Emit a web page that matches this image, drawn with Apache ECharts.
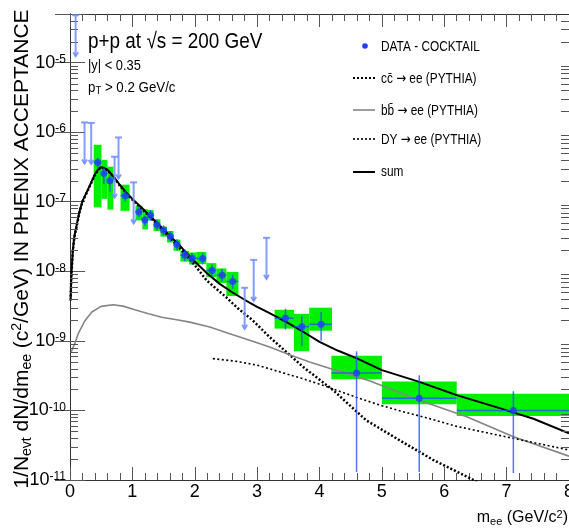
<!DOCTYPE html>
<html><head><meta charset="utf-8">
<script src="https://cdn.jsdelivr.net/npm/echarts@6/dist/echarts.min.js"></script>
<style>html,body{margin:0;padding:0;background:#fff}#c{width:569px;height:529px}</style>
</head><body><div id="c"></div>
<script>
// ---------- DATA ----------
const xTickLabels = ['0','1','2','3','4','5','6','7','8'];
const yTickExponents = [-11,-10,-9,-8,-7,-6,-5];

// DATA - COCKTAIL points
const ptM   = [0.446,0.543,0.64,0.886,1.105,1.2,1.292,1.394,1.5,1.608,1.715,1.843,1.955,2.127,2.276,2.437,2.608,3.454,3.716,4.026,4.594,5.599,7.108];
const ptV   = [3.67e-7,2.55e-7,2.01e-7,1.22e-7,7.15e-8,5.48e-8,6.38e-8,4.65e-8,3.89e-8,3.19e-8,2.42e-8,1.70e-8,1.54e-8,1.53e-8,1.03e-8,8.8e-9,7.15e-9,2.12e-9,1.6e-9,1.73e-9,3.45e-10,1.5e-10,1.0e-10];
const binLo = [0.38,0.505,0.6,0.81,1.05,1.16,1.25,1.34,1.45,1.555,1.66,1.77,1.91,2.025,2.186,2.347,2.507,3.28,3.59,3.835,4.19,5.0,6.2];
const binHi = [0.505,0.6,0.695,0.955,1.16,1.25,1.34,1.45,1.555,1.66,1.77,1.91,2.025,2.186,2.347,2.507,2.7,3.59,3.835,4.2,5.0,6.2,8.0];
const sysLo = [8.3e-8,1.1e-7,7.7e-8,7.4e-8,5.4e-8,4.0e-8,5.4e-8,3.8e-8,3.15e-8,2.6e-8,1.97e-8,1.38e-8,1.25e-8,1.27e-8,8.2e-9,6.8e-9,4.4e-9,1.5e-9,7.1e-10,1.4e-9,2.8e-10,1.23e-10,8.3e-11];
const sysHi = [6.6e-7,4.0e-7,3.2e-7,1.76e-7,8.8e-8,7.8e-8,7.6e-8,5.6e-8,4.4e-8,3.8e-8,2.85e-8,1.97e-8,1.86e-8,1.9e-8,1.31e-8,1.1e-8,9.8e-9,2.8e-9,2.45e-9,3.0e-9,6.1e-10,2.6e-10,1.74e-10];
const statLo = [2.96e-7,1.8e-7,1.4e-7,1.01e-7,5.97e-8,4.5e-8,5.3e-8,3.9e-8,3.25e-8,2.65e-8,2.0e-8,1.4e-8,1.28e-8,1.25e-8,8.4e-9,7.1e-9,5.6e-9,1.45e-9,8.5e-10,1.0e-9,1.3e-11,1.3e-11,1.26e-11];
const statHi = [4.33e-7,3.1e-7,2.4e-7,1.45e-7,8.5e-8,6.3e-8,7.6e-8,5.5e-8,4.6e-8,3.8e-8,2.9e-8,2.05e-8,1.85e-8,1.85e-8,1.25e-8,1.08e-8,8.9e-9,2.9e-9,2.3e-9,2.6e-9,7.06e-10,3.2e-10,1.89e-10];

// upper limits
const ulM = [0.09,0.233,0.34,0.714,0.778,1.02,2.8,2.945,3.15];
const ulV = [4.8e-5,1.38e-6,1.36e-6,4.44e-7,8.4e-7,1.9e-7,5.8e-9,1.46e-8,3.03e-8];

// sum
const sumM = [0.01,0.02,0.045,0.07,0.1,0.15,0.2,0.3,0.4,0.45,0.49,0.55,0.6,0.7,0.8,0.9,1.0,1.2,1.4,1.6,1.8,2.0,2.2,2.4,2.6,2.8,3.0,3.2,3.5,3.75,4.0,4.3,4.6,5.0,5.6,6.2,6.9,7.43,8.0];
const sumV = [4.0e-9,8.3e-9,2.0e-8,3.2e-8,4.3e-8,7.1e-8,1.02e-7,1.58e-7,2.5e-7,2.9e-7,3.13e-7,3.05e-7,2.88e-7,2.29e-7,1.74e-7,1.36e-7,1.10e-7,7.4e-8,4.9e-8,3.24e-8,2.14e-8,1.38e-8,9.3e-9,6.6e-9,5.0e-9,3.9e-9,3.09e-9,2.51e-9,1.80e-9,1.33e-9,9.7e-10,7.2e-10,5.6e-10,3.8e-10,2.57e-10,1.66e-10,1.07e-10,7.6e-11,4.7e-11];
// c cbar -> ee
const ccM = [0.01,0.02,0.045,0.07,0.1,0.15,0.2,0.3,0.4,0.45,0.49,0.55,0.6,0.7,0.8,0.9,1.0,1.2,1.4,1.6,1.8,2.0,2.19,2.5,2.68,2.93,3.2,3.47,3.74,4.22,4.75,5.29,5.82,6.47,6.6];
const ccV = [3.8e-9,7.9e-9,1.95e-8,3.1e-8,4.17e-8,6.9e-8,1.0e-7,1.55e-7,2.45e-7,2.85e-7,3.09e-7,3.02e-7,2.85e-7,2.26e-7,1.70e-7,1.33e-7,1.07e-7,7.2e-8,4.7e-8,3.05e-8,1.97e-8,1.23e-8,7.4e-9,4.27e-9,3.0e-9,1.97e-9,1.135e-9,6.9e-10,4.2e-10,1.95e-10,7.2e-11,3.7e-11,1.95e-11,1.0e-11,8.7e-12];
// b bbar -> ee
const bbM = [0.02,0.05,0.08,0.13,0.24,0.35,0.5,0.69,0.85,1.04,1.26,1.47,1.71,1.92,2.24,2.56,2.88,3.2,3.52,3.84,4.17,4.49,4.81,5.6,6.36,7.11,8.0];
const bbV = [6.9e-10,8.1e-10,9.3e-10,1.26e-9,1.95e-9,2.6e-9,3.13e-9,3.31e-9,3.16e-9,2.8e-9,2.45e-9,2.19e-9,2.01e-9,1.86e-9,1.58e-9,1.27e-9,1.02e-9,8.15e-10,6.3e-10,4.97e-10,4.0e-10,3.3e-10,2.65e-10,1.4e-10,8.1e-11,4.2e-11,2.2e-11];
// Drell-Yan -> ee
const dyM = [2.29,2.67,3.0,3.36,3.74,4.06,4.43,4.6,5.0,5.3,5.7,6.2,7.1,8.0];
const dyV = [5.56e-10,5.08e-10,4.47e-10,3.59e-10,2.85e-10,2.29e-10,1.74e-10,1.53e-10,1.17e-10,9.8e-11,7.9e-11,5.9e-11,3.98e-11,2.7e-11];

// legend labels
const legendLabels = ['DATA - COCKTAIL', 'c\u0063\u0304', 'b\u0062\u0304', 'DY', 'sum'];

// ---------- CHART ----------
const FONT = "'Liberation Sans', Arial, Helvetica, sans-serif";
const chart = echarts.init(document.getElementById('c'), null, {renderer:'canvas'});
const zip = (a,b) => a.map((x,i)=>[x,b[i]]);

const minorY = [];
for (let e = -11; e <= -5; e++) for (let k = 2; k <= 9; k++) { const v = k*Math.pow(10,e); if (v < 5e-5) minorY.push(v); }

const axisCommonX = {
  type:'value', min:0, max:8, interval:1,
  axisLine:{show:true, lineStyle:{color:'#333', width:1}},
  axisTick:{show:true, inside:true, length:13, lineStyle:{color:'#555', width:1}},
  minorTick:{show:true, splitNumber:5, length:7, lineStyle:{color:'#555', width:1}},
  splitLine:{show:false}, minorSplitLine:{show:false}
};
const axisCommonY = {
  type:'log', logBase:10, min:1e-11, max:5e-5, interval:1, splitNumber:7,
  axisLine:{show:true, lineStyle:{color:'#333', width:1}},
  axisTick:{show:true, inside:true, length:15, lineStyle:{color:'#555', width:1}},
  splitLine:{show:false}
};

// rich text helpers (main / subscript / superscript)
const richSet = (main, small) => ({
  a:{fontSize:main, fontFamily:FONT, lineHeight:Math.round(main*1.15), verticalAlign:'middle', fill:'#000', color:'#000'},
  s:{fontSize:small, fontFamily:FONT, lineHeight:Math.round(small*0.6), verticalAlign:'bottom', fill:'#000', color:'#000'},
  p:{fontSize:small, fontFamily:FONT, lineHeight:Math.round(small*1.0), verticalAlign:'top', fill:'#000', color:'#000'}
});
const legRich = {
  a:{fontSize:15, fontFamily:FONT, fill:'#000', color:'#000', lineHeight:17, verticalAlign:'middle'},
  r:{fontSize:15, fontFamily:"'DejaVu Sans', sans-serif", fill:'#000', color:'#000', lineHeight:17, verticalAlign:'middle'}
};
const legText = (x, y, txt) => ({type:'text', x:x, y:y, scaleX:0.79, style:{text:txt, rich:legRich, fill:'#000', textVerticalAlign:'middle', verticalAlign:'middle'}});

const option = {
  animation:false,
  backgroundColor:'#fff',
  grid:{left:70, top:14, width:499, height:466, containLabel:false, outerBoundsMode:'none'},
  xAxis:[
    Object.assign({}, axisCommonX, {position:'bottom',
      axisLabel:{show:true, margin:3, color:'#000', fontFamily:FONT, fontSize:18,
        formatter:(v)=>xTickLabels[Math.round(v)] || ''}}),
    Object.assign({}, axisCommonX, {position:'top', axisLabel:{show:false}})
  ],
  yAxis:[
    Object.assign({}, axisCommonY, {position:'left',
      axisLabel:{show:true, margin:4, color:'#000', fontFamily:FONT,
        formatter:(v)=>{ const e = Math.round(Math.log10(v)); if (Math.abs(Math.log10(v)-e) > 1e-6 || yTickExponents.indexOf(e)<0) return ''; return '{b|10}{s|' + e + '}'; },
        rich:{ b:{fontSize:18, fontFamily:FONT, color:'#000', lineHeight:18, verticalAlign:'bottom'},
               s:{fontSize:12, fontFamily:FONT, color:'#000', lineHeight:12, verticalAlign:'top'} },
        lineHeight:21 }}),
    Object.assign({}, axisCommonY, {position:'right', axisLabel:{show:false}})
  ],
  series:[
    { // minor log ticks on left and right
      type:'custom', xAxisIndex:0, yAxisIndex:0, silent:true, z:5,
      data: minorY.map(v=>[0,v]),
      renderItem:(params, api)=>{
        const pL = api.coord([0, api.value(1)]);
        const pR = api.coord([8, api.value(1)]);
        const st = {stroke:'#555', lineWidth:1};
        return {type:'group', children:[
          {type:'line', shape:{x1:pL[0], y1:Math.round(pL[1])+0.5, x2:pL[0]+8, y2:Math.round(pL[1])+0.5}, style:st},
          {type:'line', shape:{x1:pR[0]-8, y1:Math.round(pR[1])+0.5, x2:pR[0], y2:Math.round(pR[1])+0.5}, style:st}
        ]};
      }
    },
    { // systematic boxes
      name:'sys', type:'custom', clip:true, z:1, silent:true,
      data: ptM.map((m,i)=>[binLo[i], binHi[i], sysLo[i], sysHi[i]]),
      renderItem:(params, api)=>{
        const p1 = api.coord([api.value(0), api.value(3)]);
        const p2 = api.coord([api.value(1), api.value(2)]);
        return {type:'rect', shape:{x:p1[0], y:p1[1], width:p2[0]-p1[0], height:p2[1]-p1[1]}, style:{fill:'#00f000'}};
      }
    },
    { name:'cc\u0304 \u2192 ee (PYTHIA)', type:'line', data:zip(ccM, ccV), showSymbol:false, z:3, clip:true,
      lineStyle:{color:'#000', width:2.5, type:[2,2]} },
    { name:'bb\u0304 \u2192 ee (PYTHIA)', type:'line', data:zip(bbM, bbV), showSymbol:false, z:3, clip:true,
      lineStyle:{color:'#858585', width:1.6} },
    { name:'DY \u2192 ee (PYTHIA)', type:'line', data:zip(dyM, dyV), showSymbol:false, z:3, clip:true,
      lineStyle:{color:'#000', width:1.6, type:[2,2.5]} },
    { name:'sum', type:'line', data:zip(sumM, sumV), showSymbol:false, z:4, clip:true,
      lineStyle:{color:'#000', width:2} },
    { // statistical error bars
      type:'custom', clip:true, z:6, silent:true,
      data: ptM.map((m,i)=>[m, ptV[i], statLo[i], statHi[i], binLo[i], binHi[i]]),
      renderItem:(params, api)=>{
        const pc = api.coord([api.value(0), api.value(1)]);
        const pt = api.coord([api.value(0), api.value(3)]);
        const pb = api.coord([api.value(0), api.value(2)]);
        const pl = api.coord([api.value(4), api.value(1)]);
        const pr = api.coord([api.value(5), api.value(1)]);
        const st = {stroke:'rgba(40,80,255,0.8)', lineWidth:1.5};
        return {type:'group', children:[
          {type:'line', shape:{x1:pc[0], y1:pt[1], x2:pc[0], y2:pb[1]}, style:st},
          {type:'line', shape:{x1:pl[0], y1:pc[1], x2:pr[0], y2:pc[1]}, style:st}
        ]};
      }
    },
    { // upper limit arrows
      type:'custom', clip:true, z:6, silent:true,
      data: zip(ulM, ulV),
      renderItem:(params, api)=>{
        const p = api.coord([api.value(0), api.value(1)]);
        const L = 41;
        const st = {stroke:'rgba(110,140,255,0.85)', lineWidth:2, fill:'none'};
        return {type:'group', children:[
          {type:'line', shape:{x1:p[0], y1:p[1], x2:p[0], y2:p[1]+L}, style:st},
          {type:'line', shape:{x1:p[0]-3.5, y1:p[1], x2:p[0]+3.5, y2:p[1]}, style:st},
          {type:'polyline', shape:{points:[[p[0]-2.5,p[1]+L-4],[p[0],p[1]+L],[p[0]+2.5,p[1]+L-4]]}, style:st}
        ]};
      }
    },
    { name:'DATA - COCKTAIL', type:'scatter', data:zip(ptM, ptV), symbol:'circle', symbolSize:7, z:7,
      itemStyle:{color:'#1e3cff'} }
  ],
  graphic:[
    {type:'text', x:88, y:42, scaleX:0.86, style:{text:'p+p at \u221As = 200 GeV', font:'22px '+FONT, fill:'#000', textVerticalAlign:'middle', verticalAlign:'middle'}},
    {type:'text', x:88, y:66, scaleX:0.92, style:{text:'|y| < 0.35', font:'14px '+FONT, fill:'#000', textVerticalAlign:'middle', verticalAlign:'middle'}},
    {type:'text', x:88, y:88, scaleX:0.95, style:{text:'{a|p}{s|T}{a| > 0.2 GeV/c}', fill:'#000', textVerticalAlign:'middle', verticalAlign:'middle',
      rich:richSet(14, 10)}},
    // legend
    {type:'circle', shape:{cx:365, cy:46, r:2.8}, style:{fill:'#1e3cff'}},
    legText(381, 47, '{a|' + legendLabels[0] + '}'),
    {type:'line', shape:{x1:353, y1:78, x2:375, y2:78}, style:{stroke:'#000', lineWidth:2, lineDash:[2,2]}},
    legText(381, 79, '{a|' + legendLabels[1] + ' }{r|\u2192}{a| ee (PYTHIA)}'),
    {type:'line', shape:{x1:353, y1:110, x2:375, y2:110}, style:{stroke:'#858585', lineWidth:1.6}},
    legText(381, 111, '{a|' + legendLabels[2] + ' }{r|\u2192}{a| ee (PYTHIA)}'),
    {type:'line', shape:{x1:353, y1:139, x2:375, y2:139}, style:{stroke:'#000', lineWidth:1.6, lineDash:[2,2]}},
    legText(381, 140, '{a|' + legendLabels[3] + ' }{r|\u2192}{a| ee (PYTHIA)}'),
    {type:'line', shape:{x1:353, y1:172, x2:375, y2:172}, style:{stroke:'#000', lineWidth:2}},
    legText(381, 172, '{a|' + legendLabels[4] + '}'),
    // x axis title
    {type:'text', x:568, y:518, style:{text:'{a|m}{s|ee}{a| (GeV/c}{p|2}{a|)}', textAlign:'right', align:'right', textVerticalAlign:'middle', verticalAlign:'middle',
      rich:richSet(16, 11)}},
    // y axis title
    {type:'text', x:22, y:249, rotation:Math.PI/2, style:{text:'{a|1/N}{s|evt}{a| dN/dm}{s|ee}{a| (c}{p|2}{a|/GeV) IN PHENIX ACCEPTANCE}', textAlign:'center', align:'center', textVerticalAlign:'middle', verticalAlign:'middle',
      rich:richSet(21, 14)}}
  ]
};
chart.setOption(option);
</script></body></html>
